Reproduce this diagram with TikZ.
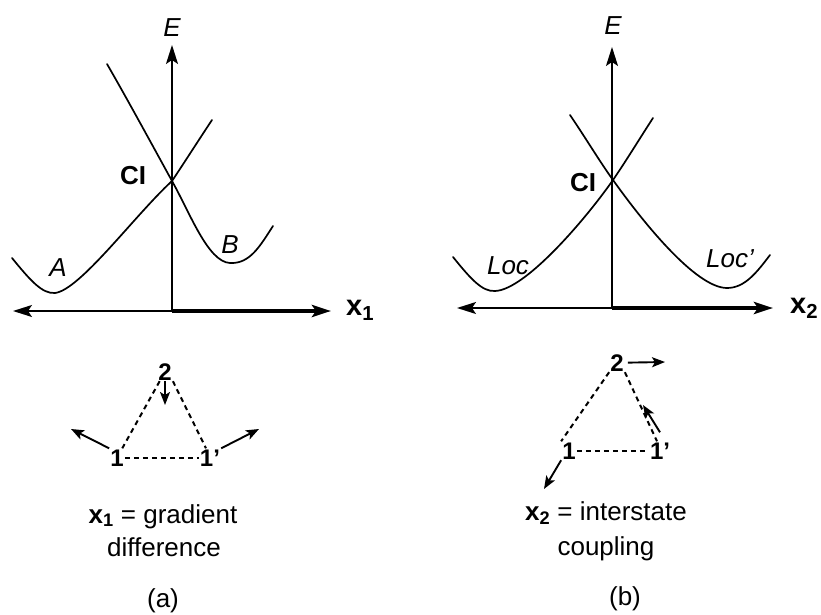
\documentclass[tikz,border=0pt]{standalone}
\usepackage{fontspec}
\setmainfont{Liberation Sans}
\usetikzlibrary{arrows.meta}
\begin{document}
\begin{tikzpicture}[x=1pt,y=-1pt,
  curve/.style={line width=1.7pt, line cap=round},
  axisline/.style={line width=1.7pt, -{Stealth[length=19pt,width=12pt,inset=4pt]}},
  thickaxis/.style={line width=3.8pt, -{Stealth[length=19pt,width=12pt,inset=4pt]}},
  dashline/.style={line width=2pt, dash pattern=on 5pt off 4pt},
  smallarrow/.style={line width=1.9pt, -{Stealth[length=13pt,width=10pt,inset=3pt]}},
  lbl/.style={font=\fontsize{26}{30}\selectfont, inner sep=0pt, anchor=base},
  ilbl/.style={lbl, font=\fontsize{26}{30}\selectfont\itshape},
  blbl/.style={lbl, font=\fontsize{26}{30}\selectfont\bfseries},
  axlbl/.style={lbl, font=\fontsize{29}{32}\selectfont\bfseries},
  digit/.style={font=\fontsize{24}{28}\selectfont\bfseries, inner sep=1pt, anchor=base},
  caption/.style={font=\fontsize{26}{30}\selectfont, inner sep=0pt, anchor=base}
]
\useasboundingbox (0,0) rectangle (821,615);
\fill[white] (0,0) rectangle (821,615);

% ---------- panel (a) ----------
\coordinate (oa) at (172,311);
\coordinate (ea) at (172,45);
\coordinate (xla) at (13,311);
\coordinate (xra) at (331,311);
\draw[axisline] (oa) -- (ea);
\draw[axisline] (oa) -- (xla);
\draw[thickaxis] (oa) -- (xra);
\node[ilbl] (Ea) at (172,37) {E};
\node[axlbl, anchor=base west] (x1a) at (346,315) {x\textsubscript{1}};
\node[blbl] (CIa) at (133,184) {CI};
\node[ilbl] (Aa) at (58,276) {A};
\node[ilbl] (Ba) at (230,253) {B};

\draw[curve] (12,258) .. controls (30,280) and (42,294) .. (55,293)
  .. controls (80,290) and (135,215) .. (172,181)
  .. controls (186,160) and (200,138) .. (212,120);
\draw[curve] (107,64) .. controls (125,95) and (155,150) .. (172,181)
  .. controls (190,213) and (208,262) .. (230,263)
  .. controls (250,264) and (260,246) .. (273,226);

% triangle (a)
\node[digit] (a2) at (165,380) {2};
\node[digit] (a1) at (117,466) {1};
\node[digit] (a1p) at (210,466) {1'};
\draw[dashline] (a2) -- (a1);
\draw[dashline] (a2.south east) -- ([xshift=-4pt]a1p.north);
\draw[dashline] (a1) -- (a1p);
\coordinate (ta2) at (165,405);
\coordinate (ta1) at (71,429);
\coordinate (ta1p) at (259,429);
\draw[smallarrow] (a2.south) -- (ta2);
\draw[smallarrow] (a1.north west) -- (ta1);
\draw[smallarrow] (a1p.north east) -- (ta1p);

\node[caption] (capa1) at (163,523) {{\bfseries x\textsubscript{1}} = gradient};
\node[caption] (capa2) at (164,556) {difference};
\node[caption] (capa3) at (163,607) {(a)};

% ---------- panel (b) ----------
\coordinate (ob) at (612,308);
\coordinate (eb) at (612,47);
\coordinate (xlb) at (457,308);
\coordinate (xrb) at (773,308);
\draw[axisline] (ob) -- (eb);
\draw[axisline] (ob) -- (xlb);
\draw[thickaxis] (ob) -- (xrb);
\node[ilbl] (Eb) at (613,35) {E};
\node[axlbl, anchor=base west] (x2b) at (790,313) {x\textsubscript{2}};
\node[blbl] (CIb) at (583,191) {CI};
\node[ilbl] (Loc) at (508,274) {Loc};
\node[ilbl] (Locp) at (730,267) {Loc'};

\draw[curve] (453,257) .. controls (470,278) and (482,292) .. (495,291)
  .. controls (525,290) and (585,220) .. (613,180)
  .. controls (626,161) and (640,138) .. (653,118);
\draw[curve] (570,115) .. controls (585,137) and (600,162) .. (613,180)
  .. controls (640,218) and (695,288) .. (727,288)
  .. controls (745,288) and (757,272) .. (770,255);

% triangle (b)
\node[digit] (b2) at (617,371) {2};
\node[digit] (b1) at (569,459) {1};
\node[digit] (b1p) at (660,459) {1'};
\draw[dashline] (b2.south west) -- (b1.north west);
\draw[dashline] (b2.south east) -- ([xshift=-3pt]b1p.north);
\draw[dashline] (b1) -- (b1p);
\coordinate (tb2) at (665,362);
\coordinate (tb1p) at (643,405);
\coordinate (tb1) at (544,489);
\draw[smallarrow] ([xshift=3pt]b2.east) -- (tb2);
\draw[smallarrow] ([yshift=9pt]b1p.north) -- (tb1p);
\draw[smallarrow] (b1.south west) -- (tb1);

\node[caption] (capb1) at (606,520) {{\bfseries x\textsubscript{2}} = interstate};
\node[caption] (capb2) at (606,555) {coupling};
\node[caption] (capb3) at (625,605) {(b)};
\end{tikzpicture}
\end{document}
